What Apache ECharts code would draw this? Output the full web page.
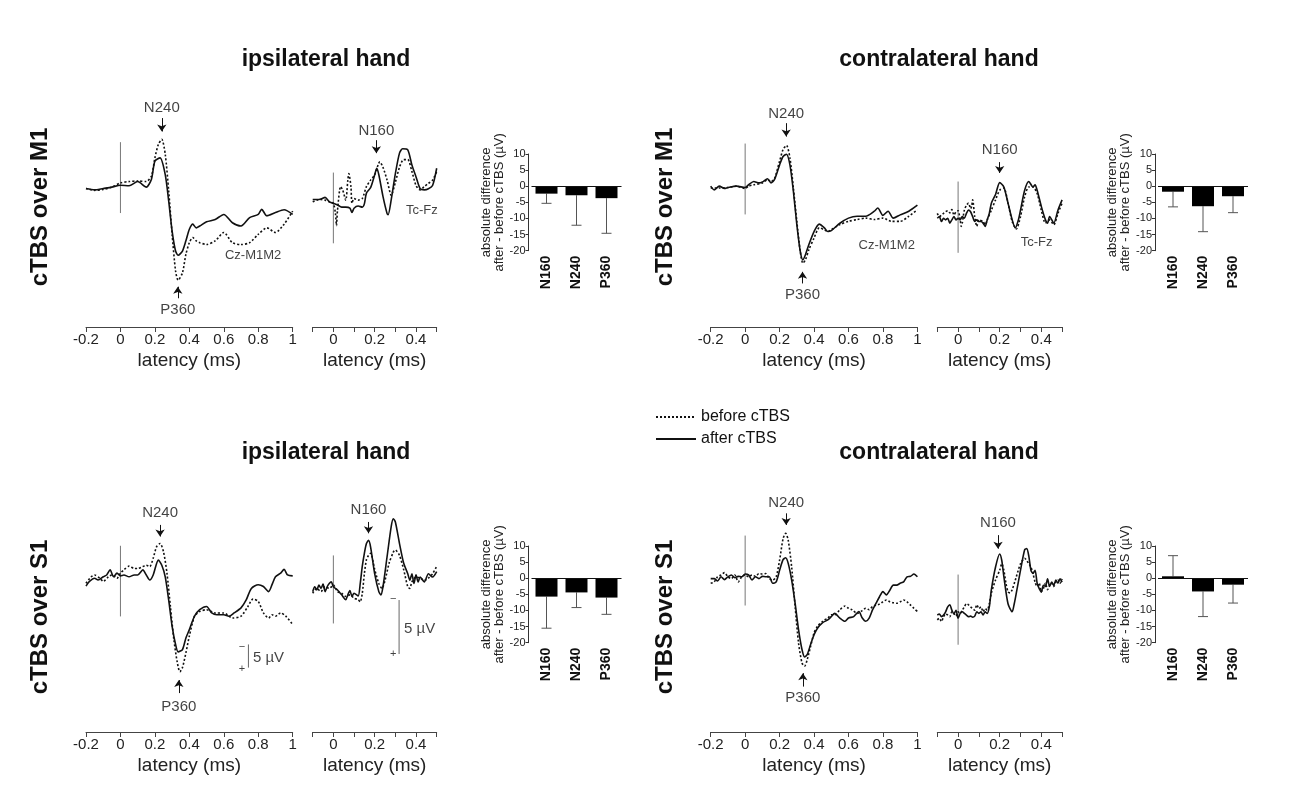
<!DOCTYPE html>
<html><head><meta charset="utf-8">
<script src="https://cdn.jsdelivr.net/npm/echarts@6.0.0/dist/echarts.min.js"></script>
<style>html,body{margin:0;padding:0;background:#fff}#c{width:1289px;height:805px}</style>
</head><body><div id="c"></div>
<script>
// ---------- DATA (µV, latency in s as labelled "ms") ----------
const longTickValues = [-0.2, 0, 0.2, 0.4, 0.6, 0.8, 1];
const shortTickLabels = [0, 0.2, 0.4];
const components = ['N160', 'N240', 'P360'];

// ipsilateral hand, cTBS over M1, Cz-M1M2
const ipsiM1_long_before = [[-0.2,0.1],[-0.15,0.5],[-0.1,0.3],[-0.05,-0.2],[0,-1.1],[0.05,-1.4],[0.1,-1.5],[0.15,-1.4],[0.18,-2.6],[0.2,-6.5],[0.22,-9.4],[0.24,-10.5],[0.26,-7.3],[0.28,0.6],[0.3,10.0],[0.32,17.9],[0.335,19.9],[0.36,18.3],[0.38,14.3],[0.4,11.8],[0.42,10.7],[0.44,11.4],[0.46,11.8],[0.5,12.2],[0.55,11.4],[0.6,9.6],[0.65,11.8],[0.7,12.2],[0.75,11.8],[0.8,10.0],[0.85,8.6],[0.9,9.6],[0.95,7.8],[1.0,5.0]];
const ipsiM1_long_after = [[-0.2,0.1],[-0.15,0.4],[-0.1,0.1],[-0.05,-0.2],[0,-0.6],[0.05,-0.5],[0.1,-1.4],[0.15,-0.2],[0.18,-1.9],[0.2,-5.8],[0.23,-6.5],[0.26,-2.9],[0.28,2.8],[0.3,9.3],[0.32,13.6],[0.335,14.5],[0.36,13.6],[0.38,11.4],[0.4,8.9],[0.42,7.8],[0.44,8.6],[0.46,8.2],[0.5,7.3],[0.55,6.8],[0.6,5.7],[0.65,7.5],[0.7,8.2],[0.75,6.4],[0.8,5.7],[0.82,4.6],[0.85,6.0],[0.9,5.3],[0.95,4.7],[1.0,5.7]];
// ipsilateral hand, cTBS over M1, Tc-Fz
const ipsiM1_short_before = [[-0.1,0],[-0.08,-0.15],[-0.06,-0.2],[-0.04,-0.15],[-0.02,0],[0,0.15],[0.01,1.1],[0.015,2.2],[0.02,0.8],[0.035,-1.4],[0.045,-1.1],[0.06,-0.15],[0.07,-2.0],[0.075,-2.6],[0.085,-1.4],[0.09,0.15],[0.1,-0.3],[0.12,-0.15],[0.14,-0.3],[0.16,-1.4],[0.18,-2.0],[0.2,-2.5],[0.225,-3.7],[0.24,-3.2],[0.26,-2.0],[0.28,-0.6],[0.3,-1.8],[0.32,-3.2],[0.34,-3.9],[0.36,-3.9],[0.38,-2.8],[0.4,-1.5],[0.42,-1.1],[0.44,-1.4],[0.46,-1.7],[0.48,-2.0],[0.5,-2.8]];
const ipsiM1_short_after = [[-0.1,-0.2],[-0.08,-0.2],[-0.06,-0.25],[-0.04,-0.4],[-0.02,0],[0,0.15],[0.02,0.3],[0.04,0.5],[0.06,0.5],[0.08,0.6],[0.09,1.0],[0.1,0.6],[0.12,0.4],[0.14,0.5],[0.15,0.2],[0.16,-0.8],[0.18,-1.3],[0.2,-2.5],[0.21,-3.1],[0.22,-2.5],[0.24,-0.5],[0.26,1.1],[0.265,1.2],[0.28,-0.2],[0.3,-2.6],[0.32,-4.5],[0.335,-4.9],[0.36,-4.8],[0.38,-3.4],[0.4,-2.3],[0.42,-1.2],[0.44,-1.1],[0.46,-1.2],[0.48,-1.5],[0.5,-3.1]];
// contralateral hand, cTBS over M1, Cz-M1M2
const contraM1_long_before = [[-0.2,0],[-0.15,0],[-0.1,-0.1],[-0.05,-0.4],[0,0.1],[0.02,-0.4],[0.05,-0.7],[0.1,-1.1],[0.13,-1.8],[0.15,-1.4],[0.17,-2.0],[0.2,-5.8],[0.22,-8.3],[0.24,-9.2],[0.26,-6.5],[0.28,0],[0.3,7.2],[0.32,13.7],[0.335,16.2],[0.35,15.5],[0.37,13.3],[0.4,10.8],[0.43,8.6],[0.46,9.0],[0.48,9.4],[0.5,9.0],[0.55,7.9],[0.6,7.2],[0.65,6.8],[0.7,6.5],[0.75,6.8],[0.8,6.5],[0.85,7.2],[0.9,7.2],[0.95,6.1],[1.0,4.7]];
const contraM1_long_after = [[-0.2,-0.4],[-0.18,0.4],[-0.15,-0.4],[-0.12,0.1],[-0.1,-0.1],[-0.05,-0.4],[0,-0.1],[0.02,-0.7],[0.05,-1.4],[0.08,-1.1],[0.1,-1.3],[0.13,-2.0],[0.15,-1.1],[0.17,-1.8],[0.2,-5.0],[0.22,-6.8],[0.24,-7.3],[0.26,-5.0],[0.28,0.7],[0.3,7.9],[0.32,13.7],[0.335,15.5],[0.35,14.4],[0.37,12.2],[0.4,9.4],[0.43,7.8],[0.46,8.6],[0.48,9.4],[0.5,9.2],[0.55,7.6],[0.6,6.5],[0.65,6.1],[0.7,6.1],[0.75,5.0],[0.77,4.3],[0.8,5.9],[0.83,5.0],[0.86,6.5],[0.9,5.8],[0.95,5.0],[1.0,3.7]];
// contralateral hand, cTBS over M1, Tc-Fz
const contraM1_short_before = [[-0.1,-0.45],[-0.09,-0.15],[-0.08,-0.3],[-0.07,-0.45],[-0.06,-0.6],[-0.05,-0.7],[-0.04,-0.5],[-0.03,-0.8],[-0.02,-0.3],[-0.01,-0.6],[0,-0.7],[0.01,0.15],[0.015,0.75],[0.02,0.45],[0.03,-0.75],[0.04,-1.2],[0.05,-1.4],[0.06,-0.9],[0.065,-1.1],[0.07,-1.7],[0.08,-0.15],[0.09,0.75],[0.1,0.15],[0.12,0.3],[0.13,0.6],[0.14,0.15],[0.16,-0.75],[0.18,-1.7],[0.2,-2.6],[0.22,-2.8],[0.24,-1.4],[0.26,0.3],[0.28,1.0],[0.3,-0.15],[0.32,-2.0],[0.34,-2.9],[0.36,-2.9],[0.38,-2.3],[0.4,-0.75],[0.42,0.45],[0.44,0.15],[0.46,0.6],[0.48,-0.45],[0.5,-1.4]];
const contraM1_short_after = [[-0.1,0],[-0.09,-0.15],[-0.08,0.3],[-0.07,0],[-0.06,0.15],[-0.05,0],[-0.04,0.45],[-0.03,0.15],[-0.02,-0.15],[-0.01,0.15],[0,0],[0.01,0.15],[0.02,-0.15],[0.03,0],[0.04,-0.45],[0.05,-0.75],[0.06,-0.6],[0.07,-0.15],[0.08,0.3],[0.09,0.15],[0.1,0.3],[0.11,0.3],[0.12,0.45],[0.13,0.75],[0.14,0.15],[0.15,-0.45],[0.16,-1.4],[0.18,-2.2],[0.2,-3.3],[0.22,-2.9],[0.24,-1.4],[0.26,0.15],[0.275,0.9],[0.29,0.15],[0.3,-0.75],[0.32,-2.6],[0.34,-3.4],[0.36,-2.9],[0.37,-3.1],[0.38,-2.6],[0.4,-1.1],[0.42,0.15],[0.43,0.45],[0.44,-0.15],[0.46,0.45],[0.48,-0.75],[0.5,-1.7]];
// ipsilateral hand, cTBS over S1, Cz-M1M2
const ipsiS1_long_before = [[-0.2,1.8],[-0.17,0.4],[-0.15,0],[-0.12,0.7],[-0.1,1.4],[-0.07,0.4],[-0.05,0],[-0.02,0.7],[0,-0.4],[0.02,-1.1],[0.05,-1.9],[0.08,-1.4],[0.1,-1.4],[0.13,-1.8],[0.15,-2.1],[0.17,-1.8],[0.19,-3.6],[0.21,-6.1],[0.23,-6.8],[0.25,-5.0],[0.27,-0.4],[0.29,6.8],[0.31,13.9],[0.33,18.9],[0.345,20.9],[0.36,20.0],[0.38,16.8],[0.4,13.2],[0.43,8.9],[0.46,7.9],[0.5,7.5],[0.55,8.2],[0.6,8.2],[0.65,9.3],[0.7,8.9],[0.74,6.8],[0.77,5.2],[0.8,5.7],[0.83,8.2],[0.86,9.3],[0.88,8.6],[0.9,8.9],[0.93,8.2],[0.96,8.9],[1.0,10.7]];
const ipsiS1_long_after = [[-0.2,2.4],[-0.18,1.4],[-0.15,0.7],[-0.13,1.1],[-0.1,0.4],[-0.08,0],[-0.06,-1.1],[-0.04,0.4],[-0.02,-0.4],[0,0.2],[0.02,0],[0.05,0.4],[0.08,0],[0.1,0],[0.13,-1.1],[0.15,0],[0.17,1.1],[0.19,0],[0.22,-3.2],[0.24,-2.1],[0.26,0.4],[0.28,5.4],[0.3,11.1],[0.32,15.0],[0.335,16.6],[0.36,16.1],[0.38,13.6],[0.4,11.8],[0.43,8.9],[0.46,7.5],[0.5,6.8],[0.53,8.2],[0.56,8.6],[0.6,8.6],[0.63,8.9],[0.66,8.2],[0.7,7.1],[0.73,5.4],[0.76,2.9],[0.8,2.1],[0.83,2.5],[0.86,3.6],[0.88,2.1],[0.9,0.4],[0.93,-0.4],[0.95,-1.2],[0.97,0],[1.0,0.2]];
// ipsilateral hand, cTBS over S1, Tc-Fz
const ipsiS1_short_before = [[-0.1,0.3],[-0.08,-0.15],[-0.06,0.15],[-0.04,-0.3],[-0.02,-0.15],[0,-0.45],[0.02,0.15],[0.04,0.3],[0.06,0.6],[0.08,0.45],[0.1,0.75],[0.12,0.9],[0.13,1.1],[0.14,0.3],[0.15,-1.5],[0.16,-2.8],[0.17,-3.2],[0.18,-3.4],[0.2,-1.9],[0.22,-0.6],[0.235,-0.15],[0.25,-0.9],[0.27,-2.5],[0.29,-3.5],[0.3,-3.7],[0.32,-3.2],[0.34,-1.9],[0.36,-0.3],[0.37,-0.15],[0.38,-0.75],[0.4,-1.2],[0.42,-1.1],[0.44,-0.9],[0.46,-1.1],[0.48,-1.5],[0.5,-2.2]];
const ipsiS1_short_after = [[-0.1,0.15],[-0.09,-0.3],[-0.08,0],[-0.07,-0.45],[-0.06,-0.15],[-0.05,-0.55],[-0.04,0.15],[-0.03,-0.3],[-0.02,-0.6],[-0.01,-0.75],[0,-0.3],[0.02,0],[0.04,0.45],[0.06,0.9],[0.07,0.45],[0.08,0.05],[0.09,0.6],[0.1,0.3],[0.12,0.55],[0.13,-0.6],[0.14,-2.2],[0.15,-3.4],[0.16,-4.3],[0.17,-4.6],[0.18,-4.0],[0.2,-1.5],[0.22,0.15],[0.23,0.45],[0.24,-0.3],[0.26,-3.1],[0.28,-5.9],[0.29,-6.6],[0.3,-6.3],[0.32,-4.3],[0.34,-2.5],[0.36,-1.5],[0.37,-0.9],[0.38,-1.5],[0.39,-0.6],[0.4,-1.4],[0.41,-0.75],[0.42,-1.2],[0.44,-0.75],[0.46,-1.5],[0.48,-1.2],[0.5,-1.7]];
// contralateral hand, cTBS over S1, Cz-M1M2
const contraS1_long_before = [[-0.2,1.4],[-0.18,1.1],[-0.16,0],[-0.14,-0.4],[-0.12,-0.9],[-0.1,0],[-0.08,0.4],[-0.06,-0.4],[-0.04,1.1],[-0.02,0],[0,-0.4],[0.02,0],[0.04,-0.4],[0.06,-0.1],[0.08,-0.7],[0.1,-0.6],[0.12,-0.7],[0.14,0.4],[0.16,0.7],[0.18,0],[0.2,-3.6],[0.22,-8.2],[0.235,-9.4],[0.25,-7.9],[0.27,-2.1],[0.29,6.4],[0.31,14.3],[0.33,18.6],[0.345,19.3],[0.36,17.9],[0.38,15.0],[0.4,12.1],[0.42,10.7],[0.45,9.6],[0.48,8.9],[0.5,8.2],[0.52,8.2],[0.55,7.1],[0.58,6.3],[0.6,6.8],[0.62,7.1],[0.65,7.9],[0.68,7.3],[0.7,6.8],[0.72,7.1],[0.74,6.4],[0.76,6.1],[0.78,5.9],[0.8,5.4],[0.82,5.0],[0.84,5.4],[0.86,5.6],[0.88,5.7],[0.9,5.4],[0.92,5.0],[0.94,5.4],[0.96,6.1],[0.98,6.8],[1.0,7.5]];
const contraS1_long_after = [[-0.2,0.4],[-0.18,0.4],[-0.16,0.9],[-0.14,0],[-0.12,0.6],[-0.1,0],[-0.08,-0.4],[-0.06,0.2],[-0.04,-0.1],[-0.02,0],[0,-0.6],[0.02,-0.4],[0.04,0.7],[0.06,0],[0.08,0.4],[0.1,-0.1],[0.12,0],[0.14,0],[0.16,1.4],[0.18,1.1],[0.2,-1.4],[0.22,-3.7],[0.235,-4.1],[0.25,-2.9],[0.27,0.7],[0.29,5.7],[0.31,11.4],[0.33,15.7],[0.345,17.3],[0.36,16.8],[0.38,14.6],[0.4,12.5],[0.42,11.1],[0.45,9.9],[0.48,9.3],[0.5,8.6],[0.52,7.9],[0.55,8.9],[0.58,9.6],[0.6,8.9],[0.63,8.6],[0.66,7.5],[0.68,8.9],[0.7,9.6],[0.72,8.9],[0.74,7.1],[0.76,5.7],[0.78,4.3],[0.8,3.2],[0.82,3.9],[0.84,2.9],[0.86,1.8],[0.88,1.8],[0.9,1.4],[0.92,1.1],[0.94,0],[0.96,-0.1],[0.98,-0.6],[1.0,0]];
// contralateral hand, cTBS over S1, Tc-Fz
const contraS1_short_before = [[-0.1,0.3],[-0.09,0.15],[-0.08,0.45],[-0.07,0],[-0.06,-0.25],[-0.05,-0.15],[-0.04,0],[-0.03,-0.45],[-0.02,-0.3],[-0.01,-0.05],[0,-0.45],[0.01,-0.3],[0.02,-0.6],[0.03,-0.9],[0.04,-1.2],[0.05,-1.1],[0.06,-0.9],[0.07,-0.75],[0.08,-0.6],[0.09,-1.1],[0.1,-0.75],[0.11,-0.9],[0.12,-0.45],[0.13,-0.75],[0.14,-0.6],[0.15,-1.2],[0.16,-2.2],[0.18,-3.4],[0.2,-4.3],[0.21,-4.9],[0.22,-4.3],[0.23,-3.1],[0.24,-2.3],[0.25,-2.2],[0.26,-2.5],[0.28,-3.7],[0.3,-4.9],[0.32,-5.4],[0.33,-5.2],[0.34,-4.9],[0.35,-4.6],[0.36,-4.0],[0.37,-3.2],[0.38,-2.8],[0.39,-3.1],[0.4,-2.3],[0.41,-2.6],[0.42,-3.1],[0.43,-2.5],[0.44,-2.9],[0.45,-3.1],[0.46,-2.8],[0.47,-3.2],[0.48,-3.4],[0.49,-3.1],[0.5,-3.5]];
const contraS1_short_after = [[-0.1,-0.15],[-0.09,-0.25],[-0.08,0],[-0.07,-0.15],[-0.06,-0.45],[-0.05,-0.9],[-0.04,-1.1],[-0.03,-0.6],[-0.02,-0.25],[-0.01,-0.6],[0,0.15],[0.01,-0.3],[0.02,-0.45],[0.03,-0.3],[0.04,-0.15],[0.05,0],[0.06,-0.05],[0.07,0.05],[0.08,-0.05],[0.09,-0.45],[0.1,-0.3],[0.11,-0.45],[0.12,-0.15],[0.13,-0.45],[0.14,-0.3],[0.15,-0.9],[0.16,-2.5],[0.18,-4.6],[0.2,-5.8],[0.21,-5.2],[0.22,-3.7],[0.24,-1.2],[0.26,-0.45],[0.27,-1.2],[0.28,-2.2],[0.3,-4.3],[0.32,-6.2],[0.33,-6.3],[0.34,-5.6],[0.35,-4.3],[0.36,-4.0],[0.37,-4.3],[0.38,-3.1],[0.39,-2.6],[0.4,-2.3],[0.41,-2.9],[0.42,-2.8],[0.43,-3.5],[0.44,-2.8],[0.45,-3.2],[0.46,-2.9],[0.47,-3.4],[0.48,-3.1],[0.49,-3.5],[0.5,-3.2]];

// stimulus-onset marker extents (µV) per panel
const ipsiM1_long_onset = [-9.9, 5.4];
const ipsiM1_short_onset = [-2.7, 3.85];
const contraM1_long_onset = [-9.6, 5.7];
const contraM1_short_onset = [-3.4, 3.2];
const ipsiS1_long_onset = [-6.3, 8.95];
const ipsiS1_short_onset = [-3.2, 3.1];
const contraS1_long_onset = [-8.9, 6.2];
const contraS1_short_onset = [-3.9, 2.6];

// absolute difference after - before cTBS (µV): means and SD
const ipsiM1_diff = [-2.3, -2.8, -3.7];
const ipsiM1_sd = [3.0, 9.3, 10.9];
const contraM1_diff = [-1.7, -6.2, -3.1];
const contraM1_sd = [4.7, 7.9, 5.1];
const ipsiS1_diff = [-5.7, -4.4, -6.0];
const ipsiS1_sd = [9.8, 4.7, 5.2];
const contraS1_diff = [0.6, -4.1, -2.0];
const contraS1_sd = [6.4, 7.8, 5.7];

const scaleBarUV = 5;

// ---------- LAYOUT ----------
const FONT = '"Liberation Sans", Arial, Helvetica, sans-serif';
const INK = '#111';
const LONG = {min: -0.2, max: 1, interval: 0.2, long: true};
const SHORT = {min: -0.1, max: 0.5, interval: 0.1, long: false};

const tracePanels = [
  {grid: {left: 86, top: 100, width: 206.7, height: 227}, x: LONG, y: [-19, 30],
   before: ipsiM1_long_before, after: ipsiM1_long_after, onset: ipsiM1_long_onset,
   notes: [{t: 'N240', x: 0.24, y: -17.3}, {t: 'P360', x: 0.333, y: 26.3}, {t: 'Cz-M1M2', x: 0.77, y: 14.6, fs: 13}],
   arrows: [{x: 0.24, from: -15.1, to: -12.2}, {x: 0.333, from: 23.8, to: 21.3}]},
  {grid: {left: 312.7, top: 100, width: 124, height: 227}, x: SHORT, y: [-9.42, 11.6],
   before: ipsiM1_short_before, after: ipsiM1_short_after, onset: ipsiM1_short_onset,
   notes: [{t: 'N160', x: 0.208, y: -6.6}, {t: 'Tc-Fz', x: 0.428, y: 0.77, fs: 13}],
   arrows: [{x: 0.208, from: -5.7, to: -4.5}]},
  {grid: {left: 710.7, top: 100, width: 206.7, height: 227}, x: LONG, y: [-19, 30],
   before: contraM1_long_before, after: contraM1_long_after, onset: contraM1_long_onset,
   notes: [{t: 'N240', x: 0.238, y: -16.1}, {t: 'P360', x: 0.333, y: 23.1}, {t: 'Cz-M1M2', x: 0.822, y: 12.3, fs: 13}],
   arrows: [{x: 0.238, from: -14.0, to: -11.1}, {x: 0.333, from: 20.6, to: 18.1}]},
  {grid: {left: 937.3, top: 100, width: 124.8, height: 227}, x: SHORT, y: [-10.95, 10.07],
   before: contraM1_short_before, after: contraM1_short_after, onset: contraM1_short_onset,
   notes: [{t: 'N160', x: 0.2, y: -6.3}, {t: 'Tc-Fz', x: 0.377, y: 2.2, fs: 13}],
   arrows: [{x: 0.2, from: -5.2, to: -4.2}]},
  {grid: {left: 86, top: 505, width: 206.7, height: 227}, x: LONG, y: [-15.1, 33.9],
   before: ipsiS1_long_before, after: ipsiS1_long_after, onset: ipsiS1_long_onset,
   notes: [{t: 'N240', x: 0.23, y: -13.3}, {t: 'P360', x: 0.339, y: 28.4},
           {t: '\u2212', x: 0.705, y: 15.6, fs: 11}, {t: '+', x: 0.705, y: 20.3, fs: 11}, {t: '5 \u00b5V', x: 0.769, y: 17.9, fs: 15, align: 'left'}],
   arrows: [{x: 0.23, from: -10.8, to: -8.3}, {x: 0.339, from: 25.5, to: 22.7}],
   scale: {x: 0.743, from: 15}},
  {grid: {left: 312.7, top: 505, width: 124, height: 227}, x: SHORT, y: [-7.87, 13.15],
   before: ipsiS1_short_before, after: ipsiS1_short_after, onset: ipsiS1_short_onset,
   notes: [{t: 'N160', x: 0.17, y: -7.4}, {t: '\u2212', x: 0.29, y: 0.8, fs: 11}, {t: '+', x: 0.29, y: 5.9, fs: 11}, {t: '5 \u00b5V', x: 0.342, y: 3.6, fs: 15, align: 'left'}],
   arrows: [{x: 0.17, from: -6.3, to: -5.25}],
   scale: {x: 0.318, from: 0.93}},
  {grid: {left: 710.7, top: 505, width: 206.7, height: 227}, x: LONG, y: [-15.5, 33.5],
   before: contraS1_long_before, after: contraS1_long_after, onset: contraS1_long_onset,
   notes: [{t: 'N240', x: 0.238, y: -15.9}, {t: 'P360', x: 0.335, y: 26.2}],
   arrows: [{x: 0.238, from: -13.7, to: -11.2}, {x: 0.335, from: 23.7, to: 20.8}]},
  {grid: {left: 937.3, top: 505, width: 124.8, height: 227}, x: SHORT, y: [-10.34, 10.68],
   before: contraS1_short_before, after: contraS1_short_after, onset: contraS1_short_onset,
   notes: [{t: 'N160', x: 0.192, y: -8.65}],
   arrows: [{x: 0.192, from: -7.55, to: -6.3}]}
];

const barPanels = [
  {grid: {left: 531.5, top: 154, width: 90, height: 96.7}, mean: ipsiM1_diff, sd: ipsiM1_sd},
  {grid: {left: 1158, top: 154, width: 90, height: 96.7}, mean: contraM1_diff, sd: contraM1_sd},
  {grid: {left: 531.5, top: 546, width: 90, height: 96.7}, mean: ipsiS1_diff, sd: ipsiS1_sd},
  {grid: {left: 1158, top: 546, width: 90, height: 96.7}, mean: contraS1_diff, sd: contraS1_sd}
];

const grids = [], xAxes = [], yAxes = [], series = [];

tracePanels.forEach((p, gi) => {
  grids.push(Object.assign({containLabel: false}, p.grid));
  xAxes.push({
    gridIndex: gi, type: 'value', min: p.x.min, max: p.x.max, interval: p.x.interval, position: 'bottom',
    axisLine: {show: true, onZero: false, lineStyle: {color: '#444', width: 1}},
    axisTick: {show: true, length: 5, lineStyle: {color: '#444', width: 1}},
    splitLine: {show: false},
    axisLabel: {fontSize: 15, color: '#222', margin: 5, fontFamily: FONT, showMinLabel: true, showMaxLabel: true,
      formatter: p.x.long
        ? (v => { const t = longTickValues.find(k => Math.abs(k - v) < 1e-6); return t === undefined ? '' : String(t); })
        : (v => { const t = shortTickLabels.find(k => Math.abs(k - v) < 1e-6); return t === undefined ? '' : String(t); })},
    name: 'latency (ms)', nameLocation: 'middle', nameGap: 24,
    nameTextStyle: {fontSize: 19, color: '#222', fontFamily: FONT}
  });
  yAxes.push({gridIndex: gi, type: 'value', inverse: true, min: p.y[0], max: p.y[1], show: false});

  series.push({type: 'line', name: 'before cTBS', xAxisIndex: gi, yAxisIndex: gi, data: p.before, color: INK,
    symbol: 'none', smooth: 0.25, z: 3, lineStyle: {color: INK, width: 1.6, type: [2, 2]}});
  series.push({type: 'line', name: 'after cTBS', xAxisIndex: gi, yAxisIndex: gi, data: p.after, color: INK,
    symbol: 'none', smooth: 0.25, z: 4, lineStyle: {color: INK, width: 1.6, type: 'solid'}});
  series.push({type: 'line', xAxisIndex: gi, yAxisIndex: gi, data: p.onset.map(v => [0, v]),
    symbol: 'none', z: 2, lineStyle: {color: '#777', width: 1}});
  if (p.scale) {
    series.push({type: 'line', xAxisIndex: gi, yAxisIndex: gi,
      data: [[p.scale.x, p.scale.from], [p.scale.x, p.scale.from + scaleBarUV]],
      symbol: 'none', z: 2, lineStyle: {color: '#666', width: 1}});
  }
  series.push({type: 'scatter', xAxisIndex: gi, yAxisIndex: gi, symbolSize: 0, clip: false, silent: true, z: 5,
    data: p.notes.map(n => ({name: n.t, value: [n.x, n.y],
      label: {fontSize: n.fs || 15, align: n.align || 'center'}})),
    label: {show: true, position: 'inside', formatter: '{b}', color: INK, fontFamily: FONT, fontSize: 15, verticalAlign: 'middle'},
    markLine: {silent: true, symbol: ['none', 'arrow'], symbolSize: 7, precision: 3,
      label: {show: false}, lineStyle: {color: INK, width: 1, type: 'solid'},
      emphasis: {disabled: true},
      data: p.arrows.map(a => [{coord: [a.x, a.from]}, {coord: [a.x, a.to]}])}
  });
});

barPanels.forEach((b, k) => {
  const gi = tracePanels.length + k;
  grids.push(Object.assign({containLabel: false}, b.grid));
  xAxes.push({gridIndex: gi, type: 'category', data: components, position: 'bottom',
    axisLine: {show: false, onZero: false}, axisTick: {show: false}, splitLine: {show: false},
    axisLabel: {rotate: 90, fontSize: 14, fontWeight: 'bold', color: INK, margin: 5, fontFamily: FONT}});
  yAxes.push({gridIndex: gi, type: 'value', min: -20, max: 10, interval: 5, offset: 3,
    axisLine: {show: true, lineStyle: {color: '#333', width: 1}},
    axisTick: {show: true, length: 3, lineStyle: {color: '#333'}},
    splitLine: {show: false},
    axisLabel: {fontSize: 11, color: '#222', margin: 3, fontFamily: FONT},
    name: 'absolute difference\nafter - before cTBS (\u00b5V)', nameLocation: 'middle', nameRotate: 90, nameGap: 22,
    nameTextStyle: {fontSize: 13, color: '#222', fontFamily: FONT, lineHeight: 13}});
  series.push({type: 'bar', xAxisIndex: gi, yAxisIndex: gi, data: b.mean, barWidth: 22,
    itemStyle: {color: '#000'}, z: 3,
    markLine: {silent: true, symbol: 'none', label: {show: false}, lineStyle: {color: INK, width: 1, type: 'solid'},
      emphasis: {disabled: true}, data: [{yAxis: 0}]}});
  series.push({type: 'custom', xAxisIndex: gi, yAxisIndex: gi, z: 2,
    data: b.mean.map((m, i) => [i, m, m + (m >= 0 ? 1 : -1) * b.sd[i]]),
    renderItem: (params, api) => {
      const p0 = api.coord([api.value(0), api.value(1)]);
      const p1 = api.coord([api.value(0), api.value(2)]);
      return {type: 'group', children: [
        {type: 'line', shape: {x1: p0[0], y1: p0[1], x2: p1[0], y2: p1[1]}, style: {stroke: '#555', lineWidth: 1}},
        {type: 'line', shape: {x1: p1[0] - 5, y1: p1[1], x2: p1[0] + 5, y2: p1[1]}, style: {stroke: '#555', lineWidth: 1}}
      ]};
    }});
});

function txt(text, x, y, size, rot) {
  return {type: 'text', x: x, y: y, rotation: rot || 0, silent: true,
    style: {text: text, font: 'bold ' + size + 'px ' + FONT, fill: INK,
      align: 'center', verticalAlign: 'middle', textAlign: 'center', textVerticalAlign: 'middle'}};
}

const option = {
  backgroundColor: '#fff',
  animation: false,
  color: [INK],
  textStyle: {fontFamily: FONT},
  grid: grids, xAxis: xAxes, yAxis: yAxes, series: series,
  legend: {orient: 'vertical', left: 650, top: 404, itemWidth: 40, itemHeight: 14, itemGap: 6,
    selectedMode: false, itemStyle: {opacity: 0},
    data: ['before cTBS', 'after cTBS'],
    textStyle: {fontSize: 16, color: INK, fontFamily: FONT}},
  graphic: [
    txt('ipsilateral hand', 326, 60, 23),
    txt('contralateral hand', 939, 60, 23),
    txt('ipsilateral hand', 326, 453, 23),
    txt('contralateral hand', 939, 453, 23),
    txt('cTBS over M1', 40, 207, 24, Math.PI / 2),
    txt('cTBS over M1', 665, 207, 24, Math.PI / 2),
    txt('cTBS over S1', 40, 617, 24, Math.PI / 2),
    txt('cTBS over S1', 665, 617, 24, Math.PI / 2)
  ]
};

const chart = echarts.init(document.getElementById('c'), null, {renderer: 'canvas'});
chart.setOption(option);
</script></body></html>
